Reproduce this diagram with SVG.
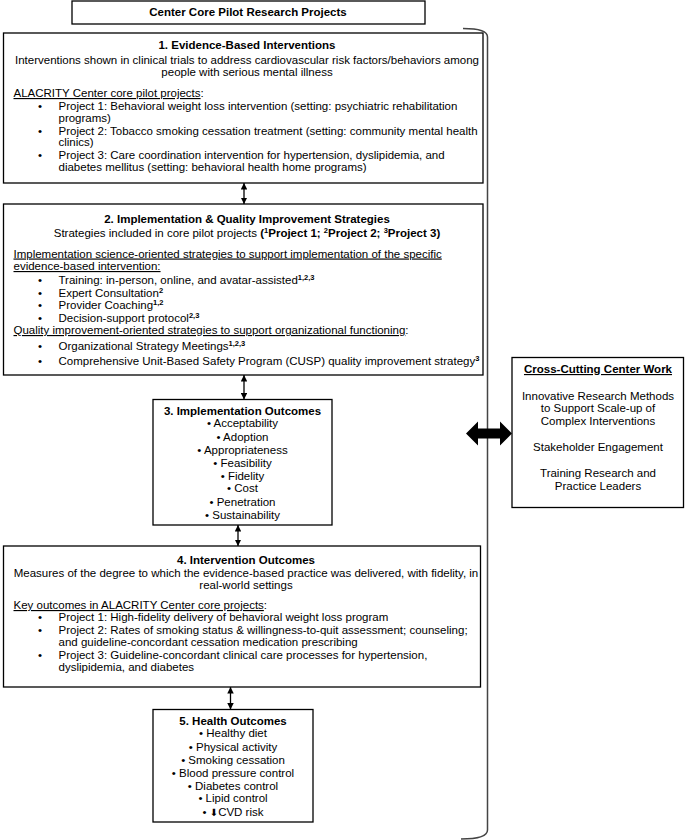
<svg xmlns="http://www.w3.org/2000/svg" width="685" height="840" viewBox="0 0 685 840">
<defs>
<style>
.t{font-family:"Liberation Sans",Arial,sans-serif;font-size:11.5px;fill:#000}
.b{font-weight:bold}
.c{text-anchor:middle}
.u{text-decoration:underline}
.sup{font-size:7.5px;font-weight:bold}
.box{fill:#fff;stroke:#000;stroke-width:1.3}
.conn{stroke:#000;stroke-width:1.3;fill:none;marker-start:url(#ah);marker-end:url(#ah)}
.brace{fill:none;stroke:#444;stroke-width:1.5}
.dn{font-family:"DejaVu Sans",sans-serif;font-size:10px}
</style>
<marker id="ah" viewBox="0 0 6 6" refX="6" refY="3" markerWidth="6.5" markerHeight="6.5" markerUnits="userSpaceOnUse" orient="auto-start-reverse">
<path d="M0,0 L6,3 L0,6 z" fill="#000"/>
</marker>
</defs>
<rect width="685" height="840" fill="#fff"/>

<g id="bracket">
<path class="brace" d="M463,28.5 Q487.5,28.5 487.5,37 L487.5,830 Q487.5,839 461,839"/>
</g>

<g id="title">
<rect class="box" x="72" y="1" width="353" height="23"/>
<text class="t b c" x="248" y="16">Center Core Pilot Research Projects</text>
</g>

<g id="box1">
<rect class="box" x="3.5" y="33" width="479.5" height="150"/>
<text class="t b c" x="247" y="48.5">1. Evidence-Based Interventions</text>
<text class="t c" x="247" y="64">Interventions shown in clinical trials to address cardiovascular risk factors/behaviors among</text>
<text class="t c" x="247" y="75.5">people with serious mental illness</text>
<text class="t" x="13.5" y="97"><tspan class="u">ALACRITY Center core pilot projects</tspan>:</text>
<text class="t" x="38" y="110">•</text>
<text class="t" x="58.5" y="110">Project 1: Behavioral weight loss intervention (setting: psychiatric rehabilitation</text>
<text class="t" x="58.5" y="121.5">programs)</text>
<text class="t" x="38" y="134.5">•</text>
<text class="t" x="58.5" y="134.5">Project 2: Tobacco smoking cessation treatment (setting: community mental health</text>
<text class="t" x="58.5" y="146">clinics)</text>
<text class="t" x="38" y="159">•</text>
<text class="t" x="58.5" y="159">Project 3: Care coordination intervention for hypertension, dyslipidemia, and</text>
<text class="t" x="58.5" y="170.5">diabetes mellitus (setting: behavioral health home programs)</text>
</g>

<g id="box2">
<rect class="box" x="3.5" y="204" width="479.5" height="171"/>
<text class="t b c" x="247" y="223.3">2. Implementation &amp; Quality Improvement Strategies</text>
<text class="t c" x="247" y="237.3">Strategies included in core pilot projects <tspan class="b">(</tspan><tspan class="sup" dy="-4">1</tspan><tspan class="b" dy="4">Project 1; </tspan><tspan class="sup" dy="-4">2</tspan><tspan class="b" dy="4">Project 2; </tspan><tspan class="sup" dy="-4">3</tspan><tspan class="b" dy="4">Project 3)</tspan></text>
<text class="t u" x="13.5" y="257.5">Implementation science-oriented strategies to support implementation of the specific</text>
<text class="t u" x="13.5" y="270">evidence-based intervention:</text>
<text class="t" x="38" y="284">•</text>
<text class="t" x="58.5" y="284">Training: in-person, online, and avatar-assisted<tspan class="sup" dy="-4">1,2,3</tspan></text>
<text class="t" x="38" y="296.5">•</text>
<text class="t" x="58.5" y="296.5">Expert Consultation<tspan class="sup" dy="-4">2</tspan></text>
<text class="t" x="38" y="309">•</text>
<text class="t" x="58.5" y="309">Provider Coaching<tspan class="sup" dy="-4">1,2</tspan></text>
<text class="t" x="38" y="321.5">•</text>
<text class="t" x="58.5" y="321.5">Decision-support protocol<tspan class="sup" dy="-4">2,3</tspan></text>
<text class="t" x="13.5" y="334"><tspan class="u">Quality improvement-oriented strategies to support organizational functioning</tspan>:</text>
<text class="t" x="38" y="350">•</text>
<text class="t" x="58.5" y="350">Organizational Strategy Meetings<tspan class="sup" dy="-4">1,2,3</tspan></text>
<text class="t" x="38" y="365">•</text>
<text class="t" x="58.5" y="365">Comprehensive Unit-Based Safety Program (CUSP) quality improvement strategy<tspan class="sup" dy="-4">3</tspan></text>
</g>

<g id="box3">
<rect class="box" x="153" y="399.5" width="179" height="125.5"/>
<text class="t b c" x="242.5" y="414.7">3. Implementation Outcomes</text>
<text class="t c" x="242.5" y="427.3">• Acceptability</text>
<text class="t c" x="242.5" y="440.7">• Adoption</text>
<text class="t c" x="242.5" y="454">• Appropriateness</text>
<text class="t c" x="242.5" y="466.7">• Feasibility</text>
<text class="t c" x="242.5" y="480">• Fidelity</text>
<text class="t c" x="242.5" y="492.3">• Cost</text>
<text class="t c" x="242.5" y="505.7">• Penetration</text>
<text class="t c" x="242.5" y="519">• Sustainability</text>
</g>

<g id="box4">
<rect class="box" x="3.5" y="546" width="477" height="141"/>
<text class="t b c" x="246" y="564">4. Intervention Outcomes</text>
<text class="t c" x="246" y="577.3">Measures of the degree to which the evidence-based practice was delivered, with fidelity, in</text>
<text class="t c" x="246" y="589">real-world settings</text>
<text class="t" x="13.5" y="609"><tspan class="u">Key outcomes in ALACRITY Center core projects</tspan>:</text>
<text class="t" x="38" y="621.3">•</text>
<text class="t" x="58.5" y="621.3">Project 1: High-fidelity delivery of behavioral weight loss program</text>
<text class="t" x="38" y="634">•</text>
<text class="t" x="58.5" y="634">Project 2: Rates of smoking status &amp; willingness-to-quit assessment; counseling;</text>
<text class="t" x="58.5" y="645.5">and guideline-concordant cessation medication prescribing</text>
<text class="t" x="38" y="659">•</text>
<text class="t" x="58.5" y="659">Project 3: Guideline-concordant clinical care processes for hypertension,</text>
<text class="t" x="58.5" y="670.7">dyslipidemia, and diabetes</text>
</g>

<g id="box5">
<rect class="box" x="153" y="709.5" width="160" height="112.5"/>
<text class="t b c" x="233" y="724.7">5. Health Outcomes</text>
<text class="t c" x="233" y="737.3">• Healthy diet</text>
<text class="t c" x="233" y="750.7">• Physical activity</text>
<text class="t c" x="233" y="764">• Smoking cessation</text>
<text class="t c" x="233" y="776.7">• Blood pressure control</text>
<text class="t c" x="233" y="790">• Diabetes control</text>
<text class="t c" x="233" y="802.3">• Lipid control</text>
<text class="t c" x="233" y="815.7">• <tspan class="dn">⬇</tspan>CVD risk</text>
</g>

<g id="crosscutting">
<rect class="box" x="512" y="357.5" width="171.5" height="150"/>
<text class="t b c u" x="598" y="373">Cross-Cutting Center Work</text>
<text class="t c" x="598" y="399.7">Innovative Research Methods</text>
<text class="t c" x="598" y="412.3">to Support Scale-up of</text>
<text class="t c" x="598" y="425">Complex Interventions</text>
<text class="t c" x="598" y="450.7">Stakeholder Engagement</text>
<text class="t c" x="598" y="477.3">Training Research and</text>
<text class="t c" x="598" y="489.7">Practice Leaders</text>
</g>

<g id="connectors">
<line class="conn" x1="244" y1="183" x2="244" y2="204"/>
<line class="conn" x1="244" y1="375" x2="244" y2="399.5"/>
<line class="conn" x1="238" y1="525" x2="238" y2="546"/>
<line class="conn" x1="230.5" y1="687" x2="230.5" y2="709.5"/>
<polygon points="466,433.5 478,421.5 478,428.5 500,428.5 500,421.5 512,433.5 500,445.5 500,438.5 478,438.5 478,445.5" fill="#000"/>
</g>
</svg>
